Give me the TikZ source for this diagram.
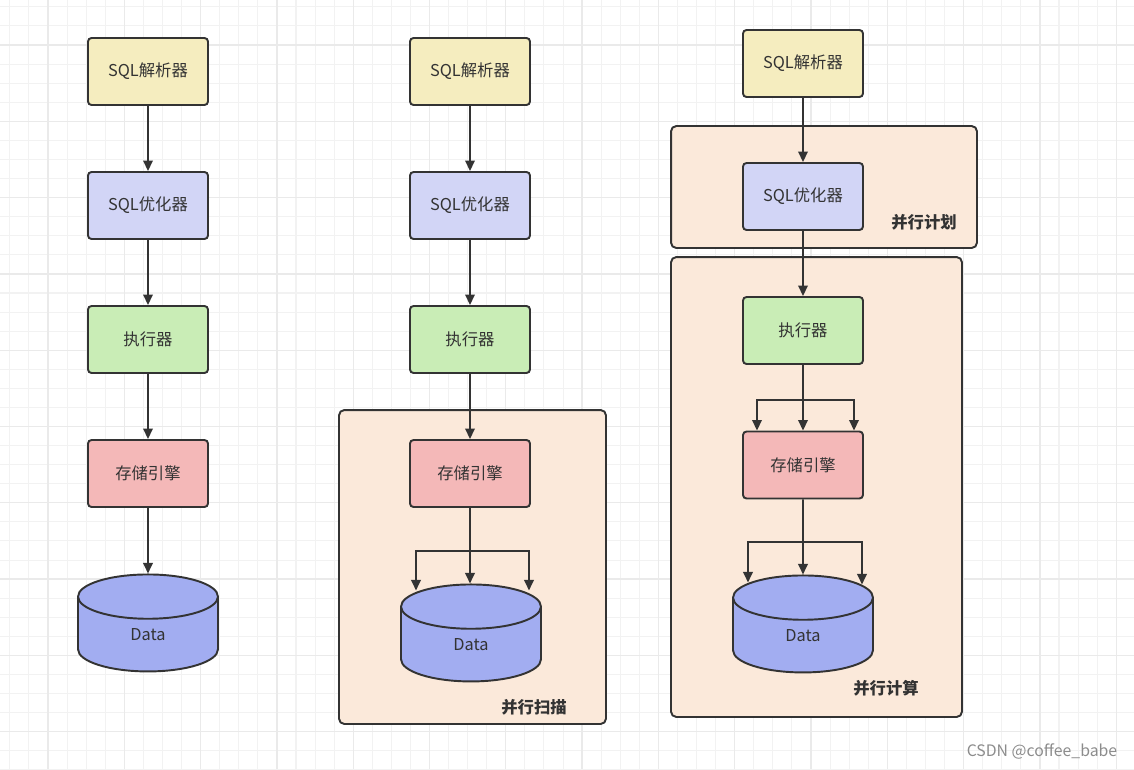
\documentclass[tikz,border=0pt]{standalone}
\usepackage{fontspec}
\setmainfont{Noto Sans CJK SC}
\usepackage{tikz}
\usetikzlibrary{shapes.geometric}
\usetikzlibrary{calc}
\usetikzlibrary{arrows.meta}
\definecolor{linec}{HTML}{333333}
\definecolor{parsec}{HTML}{F5EDBF}
\definecolor{optimc}{HTML}{D2D5F6}
\definecolor{execc}{HTML}{C9EDB6}
\definecolor{storec}{HTML}{F4B8B8}
\definecolor{datac}{HTML}{A2ADF1}
\definecolor{groupc}{HTML}{FBE9DA}
\definecolor{minorc}{HTML}{F2F2F2}
\definecolor{majorc}{HTML}{EAEAEA}
\tikzset{box/.style={rectangle, rounded corners=2pt, draw=linec, line width=1.1pt,
minimum width=2.4cm, minimum height=1.34cm, inner sep=0pt, text=linec,
font=\fontsize{9.3}{10}\selectfont},
parse/.style={box, fill=parsec},
optim/.style={box, fill=optimc},
exec/.style={box, fill=execc},
store/.style={box, fill=storec},
data/.style={cylinder, shape border rotate=90, aspect=1.26, draw=linec, fill=datac,
line width=1.1pt, minimum width=2.8cm, minimum height=1.94cm, inner sep=0pt,
text=linec, font=\fontsize{9.3}{10}\selectfont},
group/.style={rectangle, rounded corners=3pt, draw=linec, fill=groupc,
line width=1.1pt, inner sep=0pt},
tag/.style={inner sep=0pt, text=linec, font=\fontsize{9.3}{10}\selectfont\bfseries},
flow/.style={->, color=linec, line width=1.1pt},
>={Triangle[length=6pt,width=5.4pt]}}

\begin{document}
\begin{tikzpicture}[x=0.02cm, y=-0.02cm]
  \useasboundingbox (0,0) rectangle (1134,769);
  % grid
  \foreach \i in {-2,...,57}
    \draw[minorc, line width=0.6pt] ({48+19.075*\i},0) -- ({48+19.075*\i},769);
  \foreach \j in {-2,...,38}
    \draw[minorc, line width=0.6pt] (0,{45+19.075*\j}) -- (1134,{45+19.075*\j});
  \foreach \i in {0,4,...,56}
    \draw[majorc, line width=0.7pt] ({48+19.075*\i},0) -- ({48+19.075*\i},769);
  \foreach \j in {0,4,...,36}
    \draw[majorc, line width=0.7pt] (0,{45+19.075*\j}) -- (1134,{45+19.075*\j});

  % groups
  \node (g2) [group, minimum width=5.34cm, minimum height=6.28cm] at (472.5,567) {};
  \node (g3a) [group, minimum width=6.12cm, minimum height=2.44cm] at (824,187) {};
  \node (g3b) [group, minimum width=5.82cm, minimum height=9.2cm] at (816.5,487) {};
  \node (t2) [tag] at (534,707) {并行扫描};
  \node (t3a) [tag] at (924,222) {并行计划};
  \node (t3b) [tag] at (886,688) {并行计算};

  % first column
  \node (p1) [parse] at (148,71.5) {SQL解析器};
  \node (o1) [optim] at (148,205.5) {SQL优化器};
  \node (e1) [exec] at (148,339.5) {执行器};
  \node (s1) [store] at (148,473.5) {存储引擎};
  \node (d1) [data] at (148,634.5) {Data};
  \draw [flow] (p1) -- (o1);
  \draw [flow] (o1) -- (e1);
  \draw [flow] (e1) -- (s1);
  \draw [flow] (s1) -- (d1);

  % second column
  \node (p2) [parse] at (470,71.5) {SQL解析器};
  \node (o2) [optim] at (470,205.5) {SQL优化器};
  \node (e2) [exec] at (470,339.5) {执行器};
  \node (s2) [store] at (470,473.5) {存储引擎};
  \node (d2) [data] at (471,644.5) {Data};
  \coordinate (k2) at (470,551);
  \draw [flow] (p2) -- (o2);
  \draw [flow] (o2) -- (e2);
  \draw [flow] (e2) -- (s2);
  \draw [flow] (s2.south) -- ($(d2.north)+(-1,0)$);
  \draw [flow] (k2) -| ($(d2.north)+(-55,7)$);
  \draw [flow] (k2) -| ($(d2.north)+(58,7)$);

  % third column
  \node (p3) [parse] at (803,63.5) {SQL解析器};
  \node (o3) [optim] at (803,196.5) {SQL优化器};
  \node (e3) [exec] at (803,330.5) {执行器};
  \node (s3) [store] at (803,465) {存储引擎};
  \node (d3) [data] at (803,635.5) {Data};
  \coordinate (k3) at (803,400);
  \coordinate (k4) at (803,542);
  \draw [flow] (p3) -- (o3);
  \draw [flow] (o3) -- (e3);
  \draw [flow] (e3) -- (s3);
  \draw [flow] (k3) -| ($(s3.north)+(-46,0)$);
  \draw [flow] (k3) -| ($(s3.north)+(51,0)$);
  \draw [flow] (s3) -- (d3);
  \draw [flow] (k4) -| ($(d3.north)+(-55,8)$);
  \draw [flow] (k4) -| ($(d3.north)+(59,10)$);

  \node (wm) [inner sep=0pt, text=black!45, font=\fontsize{9}{10}\selectfont] at (1042,751) {CSDN @coffee\_babe};
\end{tikzpicture}
\end{document}
